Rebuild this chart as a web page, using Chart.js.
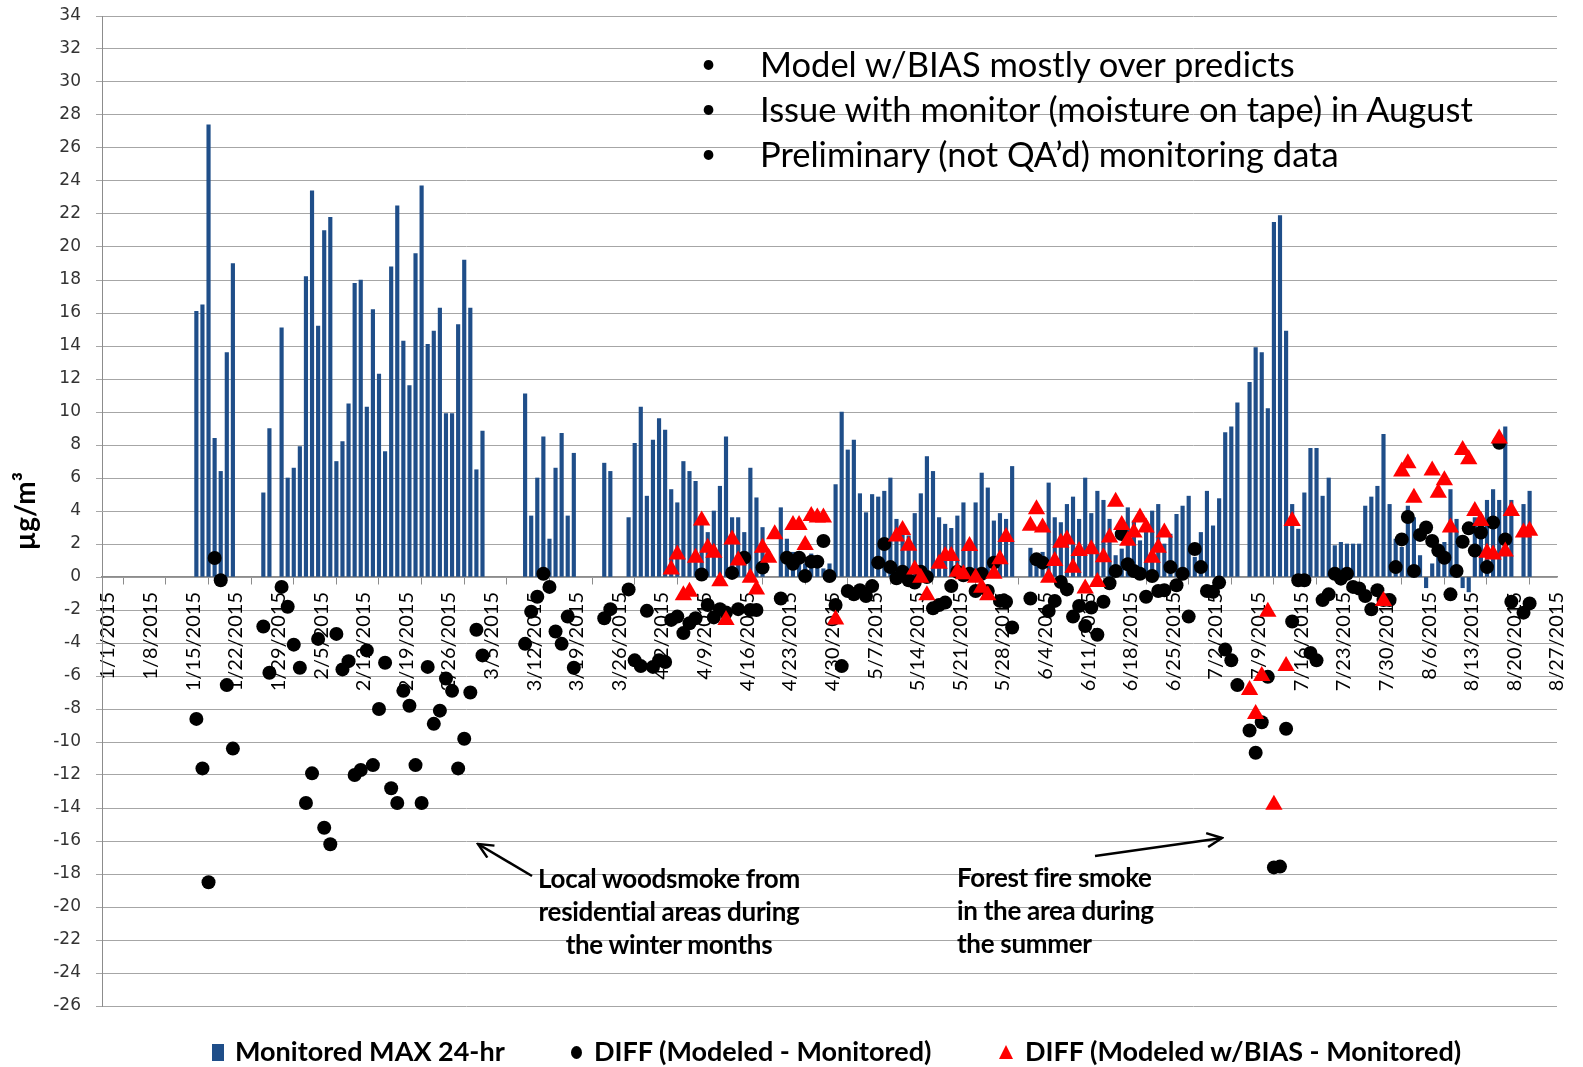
<!DOCTYPE html>
<html>
<head>
<meta charset="utf-8">
<script src="https://cdn.jsdelivr.net/npm/chart.js@4.4.1/dist/chart.umd.min.js"></script>
<style>
  body { margin: 0; background: #fff; }
  #wrap { position: relative; width: 1583px; height: 1067px; overflow: hidden; }
  #chart { position: absolute; left: 0; top: 0; }
  .txt { position: absolute; font-family: Lato, "Open Sans", sans-serif; white-space: nowrap; color: #000; }
  .bullets { font-size: 34.5px; line-height: 45px; }
  .dots { font-size: 26px; line-height: 45px; }
  .note { font-size: 26px; font-weight: bold; line-height: 33px; letter-spacing: -0.3px; }
  .legend { font-size: 27px; font-weight: bold; line-height: 30px; }
  .mark { position: absolute; }
</style>
</head>
<body>
<div id="wrap">
  <canvas id="chart" width="1583" height="1067"></canvas>

  <svg width="1583" height="1067" style="position:absolute;left:0;top:0">
    <defs>
      <marker id="head" markerWidth="18" markerHeight="16" refX="16" refY="8" orient="auto" markerUnits="userSpaceOnUse">
        <path d="M1,1 L16,8 L1,15" fill="none" stroke="#000" stroke-width="2.5"/>
      </marker>
    </defs>
    <line x1="532" y1="876" x2="478" y2="844" stroke="#000" stroke-width="2.5" marker-end="url(#head)"/>
    <line x1="1095" y1="856" x2="1222" y2="838" stroke="#000" stroke-width="2.5" marker-end="url(#head)"/>
  </svg>

  <div class="txt dots" style="left:701px;top:41px">•<br>•<br>•</div>
  <div class="txt bullets" style="left:760px;top:41px">Model w/BIAS mostly over predicts<br>Issue with monitor (moisture on tape) in August<br>Preliminary (not QA’d) monitoring data</div>

  <div class="txt note" style="left:519px;top:862px;width:300px;text-align:center">Local woodsmoke from<br>residential areas during<br>the winter months</div>
  <div class="txt note" style="left:957px;top:861px">Forest fire smoke<br>in the area during<br>the summer</div>

  <div class="mark" style="left:212px;top:1044px;width:12px;height:17px;background:#1f4e89"></div>
  <div class="txt legend" style="left:235px;top:1036px">Monitored MAX 24-hr</div>
  <div class="mark" style="left:571px;top:1046px;width:11px;height:13px;border-radius:50%;background:#000"></div>
  <div class="txt legend" style="left:594px;top:1036px">DIFF (Modeled - Monitored)</div>
  <div class="mark" style="left:999px;top:1045px;width:0;height:0;border-left:7.5px solid transparent;border-right:7.5px solid transparent;border-bottom:14px solid #ff0000"></div>
  <div class="txt legend" style="left:1025px;top:1036px">DIFF (Modeled w/BIAS - Monitored)</div>
</div>

<script>
// x axis: day index, 0 = 1/1/2015; one tick label per week
const xTickDates = ['1/1/2015', '1/8/2015', '1/15/2015', '1/22/2015', '1/29/2015', '2/5/2015',
  '2/12/2015', '2/19/2015', '2/26/2015', '3/5/2015', '3/12/2015', '3/19/2015', '3/26/2015',
  '4/2/2015', '4/9/2015', '4/16/2015', '4/23/2015', '4/30/2015', '5/7/2015', '5/14/2015',
  '5/21/2015', '5/28/2015', '6/4/2015', '6/11/2015', '6/18/2015', '6/25/2015', '7/2/2015',
  '7/9/2015', '7/16/2015', '7/23/2015', '7/30/2015', '8/6/2015', '8/13/2015', '8/20/2015',
  '8/27/2015'];

const yTicks = { min: -26, max: 34, step: 2 };

// daily series start on 1/16/2015 (day 15)
const monitoredStart = 15;
const monitored = [
  16.1, 16.5, 27.4, 8.4, 6.4, 13.6, 19.0,
  null, null, null, null, 5.1, 9.0, null,
  15.1, 6.0, 6.6, 7.9, 18.2, 23.4, 15.2,
  21.0, 21.8, 7.0, 8.2, 10.5, 17.8, 18.0,
  10.3, 16.2, 12.3, 7.6, 18.8, 22.5, 14.3,
  11.6, 19.6, 23.7, 14.1, 14.9, 16.3, 9.9,
  9.9, 15.3, 19.2, 16.3, 6.5, 8.85, null,
  null, null, null, null, null, 11.1, 3.7,
  6.0, 8.5, 2.3, 6.6, 8.7, 3.7, 7.5,
  null, null, null, null, 6.9, 6.4, null,
  null, 3.6, 8.1, 10.3, 4.9, 8.3, 9.6,
  8.9, 5.3, 4.5, 7.0, 6.4, 5.8, 3.3,
  2.7, 4.0, 5.5, 8.5, 3.6, 3.6, 2.7,
  6.6, 4.8, 3.0, null, null, 4.2, 2.3,
  1.5, 1.2, 0.8, 1.4, 0.6, 0.5, 0.8,
  5.6, 10.0, 7.7, 8.3, 5.05, 3.9, 5.0,
  4.85, 5.2, 6.0, 3.5, 3.0, 2.5, 3.85,
  5.05, 7.3, 6.4, 3.6, 3.2, 2.95, 3.7,
  4.5, 1.8, 4.5, 6.3, 5.4, 3.4, 3.85,
  3.5, 6.7, null, null, 1.75, 1.0, 1.5,
  5.7, 3.6, 3.3, 4.4, 4.85, 3.5, 6.0,
  3.85, 5.2, 4.65, 3.5, 1.3, 1.7, 4.2,
  3.4, 2.2, 3.2, 4.0, 4.4, 2.0, 2.6,
  3.8, 4.3, 4.9, 1.2, 2.7, 5.2, 3.1,
  4.75, 8.75, 9.1, 10.55, null, 11.8, 13.9,
  13.6, 10.2, 21.5, 21.9, 14.9, 4.4, 2.9,
  5.1, 7.8, 7.8, 4.9, 6.0, 1.9, 2.1,
  2.0, 2.0, 2.0, 4.3, 4.85, 5.5, 8.65,
  4.4, 2.3, 1.8, 4.3, 3.6, 1.3, -0.65,
  0.8, 1.6, 2.1, 5.3, 3.5, -0.65, -0.9,
  3.6, 3.2, 4.65, 5.3, 4.65, 9.1, 4.65,
  null, 4.4, 5.2
];

const diff = [
  -8.6, -11.6, -18.5, 1.15, -0.2, -6.55, -10.4,
  null, null, null, null, -3.0, -5.8, null,
  -0.6, -1.8, -4.1, -5.5, -13.7, -11.9, -3.75,
  -15.2, -16.2, -3.45, -5.6, -5.1, -12.0, -11.7,
  -4.45, -11.4, -8.0, -5.2, -12.8, -13.7, -6.9,
  -7.8, -11.4, -13.7, -5.45, -8.9, -8.1, -6.15,
  -6.9, -11.6, -9.8, -7.0, -3.2, -4.75, null,
  null, null, null, null, null, -4.05, -2.1,
  -1.2, 0.2, -0.6, -3.3, -4.05, -2.4, -5.5,
  null, null, null, null, -2.5, -1.95, null,
  null, -0.75, -5.05, -5.4, -2.05, -5.45, -5.05,
  -5.15, -2.6, -2.4, -3.4, -2.8, -2.5, 0.15,
  -1.7, -2.45, -1.95, -2.15, 0.25, -1.95, 1.17,
  -2.0, -2.0, 0.57, null, null, -1.3, 1.17,
  0.8, 1.17, 0.06, 0.93, 0.93, 2.18, 0.06,
  -1.7, -5.4, -0.85, -1.05, -0.8, -1.15, -0.55,
  0.87, 2.0, 0.6, -0.08, 0.32, -0.2, -0.34,
  0.32, 0.0, -1.9, -1.7, -1.55, -0.55, 0.32,
  0.1, 0.2, -0.85, 0.2, -0.85, 0.87, -1.45,
  -1.5, -3.06, null, null, -1.3, 1.07, 0.87,
  -2.06, -1.45, -0.3, -0.75, -2.4, -1.75, -2.97,
  -1.85, -3.5, -1.5, -0.38, 0.36, 2.6, 0.77,
  0.36, 0.2, -1.2, 0.06, -0.85, -0.8, 0.6,
  -0.5, 0.2, -2.4, 1.7, 0.6, -0.85, -0.9,
  -0.34, -4.4, -5.05, -6.55, null, -9.3, -10.65,
  -8.8, -6.05, -17.6, -17.55, -9.2, -2.7, -0.2,
  -0.2, -4.6, -5.05, -1.4, -1.05, 0.2, -0.1,
  0.2, -0.6, -0.7, -1.15, -1.96, -0.8, -1.4,
  -1.4, 0.6, 2.28, 3.64, 0.36, 2.55, 3.0,
  2.18, 1.6, 1.17, -1.05, 0.36, 2.14, 2.95,
  1.6, 2.7, 0.6, 3.3, 8.14, 2.28, -1.5,
  null, -2.16, -1.6
];

// modeled w/BIAS only from 4/3/2015 (day 93)
const biasStart = 93;
const diffBias = [
  0.46, 1.37, -1.1, -0.9, 1.17, 3.43, 1.78,
  1.47, -0.25, -2.6, 2.28, 1.0, null, -0.05,
  -0.75, 1.78, 1.17, 2.59, null, null, 3.15,
  3.15, 1.94, 3.7, 3.6, 3.6, null, -2.57,
  null, null, null, null, null, null, null,
  null, null, 2.45, 2.85, 1.9, 0.46, -0.04,
  -1.1, null, 0.8, 1.27, 1.27, 0.32, 0.16,
  1.88, -0.04, -0.65, -1.1, 0.2, 1.07, 2.42,
  null, null, null, 3.1, 4.1, 3.0, -0.04,
  0.97, 2.08, 2.28, 0.56, 1.58, -0.7, 1.68,
  -0.3, 1.2, 2.4, 4.56, 3.15, 2.2, 2.7,
  3.6, 3.0, 1.17, 1.78, 2.7, null, null,
  null, null, null, null, null, null, null,
  null, null, null, null, -6.85, -8.3, -6.0,
  -2.1, -13.8, null, -5.4, 3.4, null, null,
  null, null, null, null, null, null, null,
  null, null, null, null, null, -1.45, null,
  null, 6.4, 6.9, 4.8, null, null, 6.46,
  5.1, 5.86, 3.0, null, 7.7, 7.13, 4.0,
  3.4, 1.47, 1.37, 8.4, 1.54, 4.0, null,
  2.7, 2.8
];

function toPoints(start, values) {
  return values
    .map((v, i) => ({ x: start + i, y: v }))
    .filter(p => p.y !== null);
}

const gridGray = '#a6a6a6';
const axisGray = '#8c8c8c';

new Chart(document.getElementById('chart'), {
  type: 'bar',
  data: {
    datasets: [
      {
        type: 'bar',
        label: 'Monitored MAX 24-hr',
        data: toPoints(monitoredStart, monitored),
        backgroundColor: '#1f4e89',
        barThickness: 3.5,
        order: 3
      },
      {
        type: 'scatter',
        label: 'DIFF (Modeled - Monitored)',
        data: toPoints(monitoredStart, diff),
        pointStyle: 'circle',
        pointRadius: 7,
        backgroundColor: '#000',
        borderWidth: 0,
        order: 2
      },
      {
        type: 'scatter',
        label: 'DIFF (Modeled w/BIAS - Monitored)',
        data: toPoints(biasStart, diffBias),
        pointStyle: 'triangle',
        pointRadius: 10,
        backgroundColor: '#ff0000',
        borderWidth: 0,
        order: 1
      }
    ]
  },
  options: {
    responsive: false,
    animation: false,
    devicePixelRatio: 1,
    layout: { padding: { left: 0, right: 20, top: 16, bottom: 61 } },
    plugins: {
      legend: { display: false },
      tooltip: { enabled: false }
    },
    scales: {
      x: {
        type: 'linear',
        offset: false,
        position: { y: 0 },
        min: -0.5,
        max: 238.5,
        // ticks sit on the day boundaries, like the category slots in the original
        afterBuildTicks: (scale) => {
          scale.ticks = xTickDates.map((d, i) => ({ value: i * 7 - 0.5 }));
        },
        ticks: {
          autoSkip: false,
          minRotation: 90,
          maxRotation: 90,
          padding: 8,
          labelOffset: 6,
          color: '#000',
          font: { family: 'Lato', size: 20 },
          callback: (value, index) => xTickDates[index]
        },
        grid: { drawOnChartArea: false, drawTicks: true, tickLength: 7, color: axisGray },
        border: { color: axisGray, width: 1.5 }
      },
      y: {
        min: yTicks.min,
        max: yTicks.max,
        afterFit: (scale) => {
          scale.width = 102;
          // keep the plot edges where the layout padding puts them
          scale.paddingTop = 0;
          scale.paddingBottom = 0;
        },
        ticks: {
          stepSize: yTicks.step,
          padding: 15,
          color: '#333',
          font: { family: 'DejaVu Sans', size: 17 }
        },
        grid: { color: gridGray, tickLength: 6 },
        border: { color: axisGray },
        title: {
          display: true,
          text: 'µg/m³',
          color: '#000',
          font: { family: 'Lato', size: 28, weight: 'bold' },
          padding: { top: 9, bottom: 0 }
        }
      }
    }
  }
});
</script>
</body>
</html>
